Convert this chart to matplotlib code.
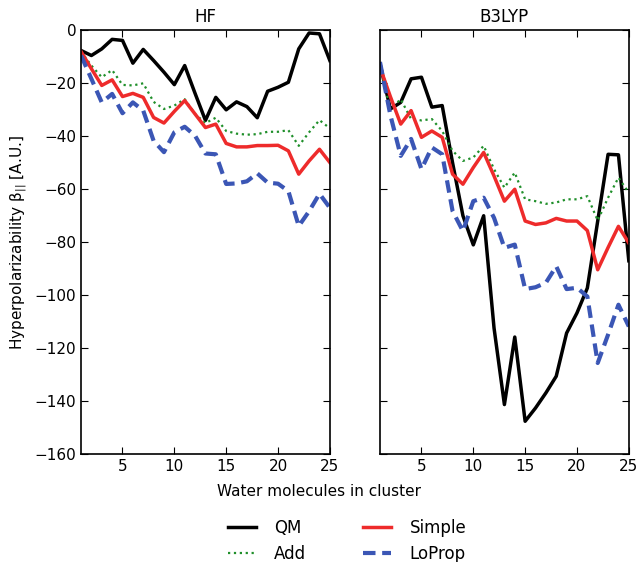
import numpy as np
import matplotlib
matplotlib.use('Agg')
import matplotlib.pyplot as plt

# cluster sizes
n_water = list(range(1, 26))

# HF panel
hf_qm = [-7.6, -9.5, -7, -3.4, -3.8, -12.4, -7.2, -11.4, -15.8, -20.5, -13.3, -23.8, -34,
         -25.3, -30, -27, -28.8, -33, -23, -21.5, -19.6, -7, -1, -1.3, -11.4]
hf_add = [-8, -13.3, -17.7, -15, -20.6, -20.8, -20, -27, -29.7, -28.4, -26, -31.6, -35,
          -33, -38, -39, -39.4, -39.2, -38.3, -38.3, -37.7, -43.6, -38.5, -33.9, -37]
hf_simple = [-8, -14.5, -20.8, -18.7, -25, -23.8, -25.3, -32.9, -35, -30.6, -26.5, -31.6, -36.7,
             -35.4, -42.7, -44, -44, -43.5, -43.5, -43.4, -45.5, -54.3, -49.3, -44.9, -49.9]
hf_loprop = [-9.5, -18.3, -27.2, -24, -31.3, -27.2, -30.3, -41.7, -46, -38.5, -36.4, -39.8, -46.5,
             -46.8, -58, -57.8, -57, -54, -57.5, -57.9, -60.7, -73.9, -68.3, -61.7, -67]

# B3LYP panel
b3_qm = [-12.6, -29.7, -27.2, -18.3, -17.7, -29, -28.4, -50, -70, -81, -70, -112.4, -141.3,
         -115.8, -147.6, -142.6, -136.9, -130.6, -114.3, -106.7, -97.3, -72, -46.8, -47, -87]
b3_add = [-13.9, -29.7, -26, -33.5, -34, -33.5, -38, -45.5, -49.3, -48, -43.6, -52.4, -59.4,
          -53.7, -63.8, -64.5, -65.5, -65, -63.8, -63.8, -62.6, -71.8, -63.2, -55.6, -61.3]
b3_simple = [-13.9, -25, -35.4, -30.3, -40.4, -38, -40.4, -54.3, -58.1, -51.8, -46.1, -55, -64.5,
             -60, -72, -73.3, -72.7, -71, -72, -72, -75.6, -90.4, -82, -74, -80.3]
b3_loprop = [-12, -32, -47.4, -41, -52.4, -44.2, -46.8, -68.2, -75.8, -64.5, -63.2, -70.8, -82.1,
             -80.9, -97.7, -97, -95.3, -89.1, -97.7, -97.2, -100.5, -125.6, -114.9, -103.6, -111.8]

panels = [("HF", hf_qm, hf_add, hf_simple, hf_loprop),
          ("B3LYP", b3_qm, b3_add, b3_simple, b3_loprop)]

plt.rcParams['font.family'] = ['DejaVu Sans']
fig = plt.figure(figsize=(6.38, 5.62), dpi=100)
ax_left = fig.add_axes([0.127, 0.192, 0.390, 0.754])
ax_right = fig.add_axes([0.5956, 0.192, 0.390, 0.754], sharey=ax_left)

handles = None
for ax, (title, qm, add, simple, loprop) in zip([ax_left, ax_right], panels):
    l_qm, = ax.plot(n_water, qm, color='black', lw=2.5, label='QM')
    l_add, = ax.plot(n_water, add, color='#1f8f2a', lw=1.6, ls=':', label='Add')
    l_simple, = ax.plot(n_water, simple, color='#ee2b2b', lw=2.5, label='Simple')
    l_loprop, = ax.plot(n_water, loprop, color='#3b56b5', lw=3, ls='--', dashes=(3, 1.6), label='LoProp')
    handles = [l_qm, l_add, l_simple, l_loprop]
    ax.set_title(title, fontsize=12)
    ax.set_xlim(1, 25)
    ax.set_ylim(-160, 0)
    ax.set_xticks([5, 10, 15, 20, 25])
    ax.set_yticks(np.arange(-160, 1, 20))
    ax.tick_params(direction='in', top=True, right=True, labelsize=11, length=5)
    for s in ax.spines.values():
        s.set_linewidth(1.2)

ax_right.tick_params(labelleft=False)
ax_left.set_ylabel(r'Hyperpolarizability $\mathregular{\beta_{||}}$ [A.U.]', fontsize=11)
fig.text(0.5, 1 - 492 / 562, 'Water molecules in cluster', ha='center', va='center', fontsize=11)

fig.legend(handles, [h.get_label() for h in handles], ncol=2, loc='center',
           bbox_to_anchor=(347 / 638, 1 - 541 / 562), frameon=False, fontsize=12,
           columnspacing=3.4, handlelength=1.7, handletextpad=1.1, labelspacing=0.45)

fig.savefig('out.png', dpi=100)
